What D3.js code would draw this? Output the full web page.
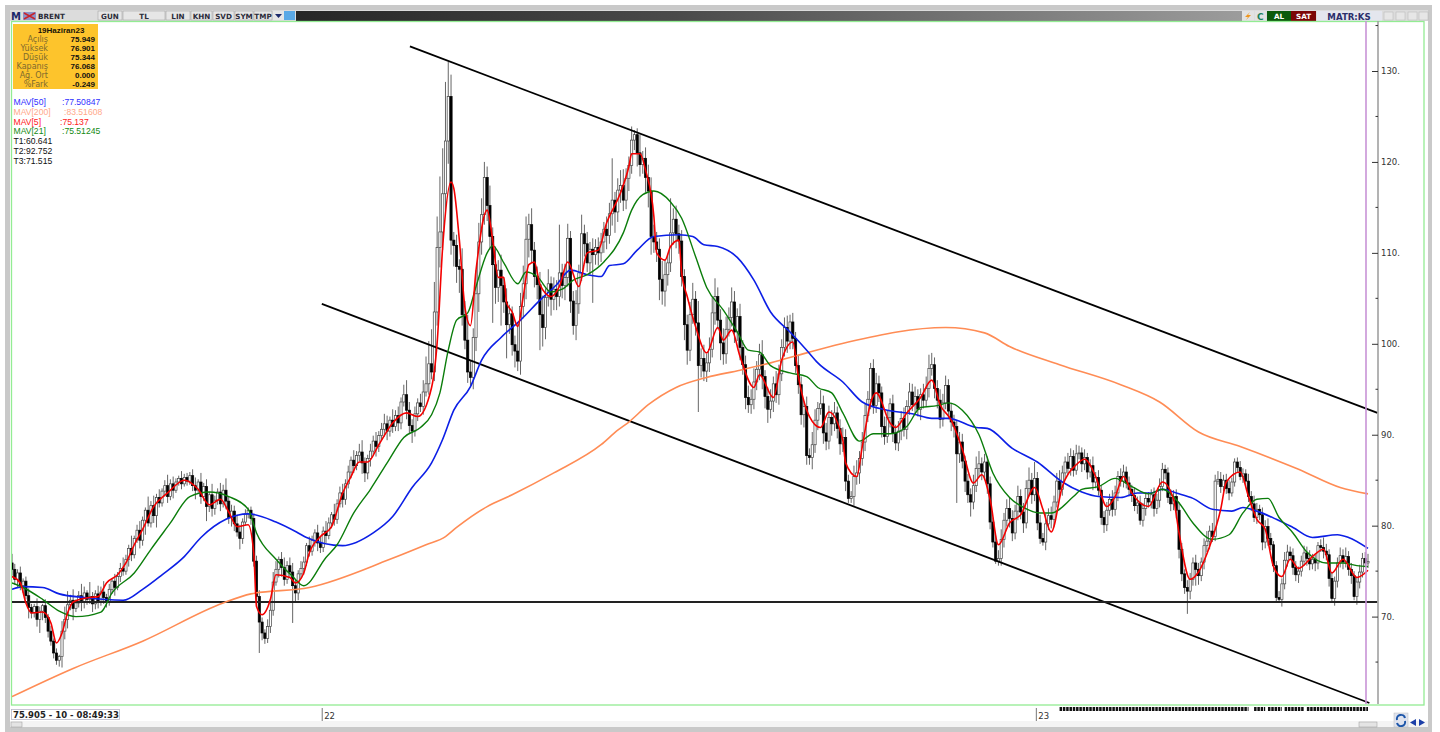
<!DOCTYPE html>
<html>
<head>
<meta charset="utf-8">
<style>
html,body{margin:0;padding:0;background:#fff;overflow:hidden}
text{font-family:"Liberation Sans",Arial,sans-serif}
.tb{font-family:"DejaVu Sans",sans-serif;font-weight:bold;font-size:7.2px;fill:#2c2c3a}
</style>
</head>
<body>
<svg id="chart" width="1440" height="732"></svg>
<script src="https://cdnjs.cloudflare.com/ajax/libs/d3/7.8.5/d3.min.js"></script>
<script>
//Price data, one row = 20 sessions
var firstOpen = 75.9;
var closes = [
75.2,74.1,74.8,73.4,73.9,72.3,71.0,70.4,71.1,69.7,70.6,71.2,69.9,68.4,67.3,66.0,65.2,65.6,68.4,69.7,
71.3,71.8,70.9,71.5,72.3,71.6,72.6,71.9,72.2,71.4,72.5,71.7,72.7,72.1,71.6,73.0,73.9,73.2,74.4,75.3,
75.0,76.3,77.5,76.8,78.6,79.5,78.4,80.6,81.7,80.3,82.2,81.1,83.1,82.5,83.8,84.4,83.2,84.6,83.9,84.8,
85.2,84.6,85.3,84.9,85.5,84.4,83.9,84.8,83.2,84.3,82.1,83.4,81.9,82.8,83.7,82.4,83.9,82.7,80.9,81.6,
80.2,79.3,78.6,80.4,81.3,81.7,80.8,76.1,72.2,69.4,68.2,67.6,68.9,70.7,73.8,75.2,76.3,75.4,74.1,75.6,
74.9,73.4,72.6,74.7,75.3,76.0,77.8,77.2,78.4,79.2,78.1,77.6,79.4,78.9,80.3,81.2,80.7,82.4,83.6,82.9,
84.6,85.9,87.2,86.6,87.7,88.1,86.9,85.8,87.4,88.2,89.3,88.7,89.9,90.6,91.2,90.4,91.6,90.9,92.1,91.3,
93.6,94.4,92.7,91.0,90.4,92.3,93.5,93.1,94.7,95.6,97.8,96.9,103.5,110.6,112.3,116.5,122.3,127.2,111.4,110.8,
108.5,108.2,103.2,100.4,96.9,96.3,100.7,105.5,111.2,114.2,118.3,115.2,111.8,108.7,106.2,108.1,106.4,104.6,102.1,103.3,
99.9,99.2,98.1,104.1,106.6,111.5,113.1,110.3,107.4,106.5,103.2,101.8,105.1,106.6,104.9,106.0,105.2,107.8,106.4,107.3,
111.6,104.7,102.0,104.4,107.8,112.1,111.0,108.9,110.4,109.8,110.6,110.0,111.2,112.6,111.9,114.3,115.8,114.5,116.9,117.4,
115.8,118.2,119.6,122.4,123.0,121.0,119.7,120.4,118.3,116.8,111.8,111.2,110.4,107.1,105.8,107.6,108.9,112.2,113.7,112.1,
111.3,107.4,102.1,99.3,103.2,104.9,102.3,97.6,98.4,97.0,97.9,99.4,103.4,105.2,102.6,100.1,98.9,101.6,102.9,104.6,
101.3,103.0,99.6,97.7,94.1,93.3,93.9,95.8,97.2,98.8,96.4,94.2,92.8,93.7,95.6,94.4,96.7,99.6,101.8,100.3,
102.4,100.6,97.6,95.5,92.2,93.1,87.7,87.5,88.9,91.6,92.9,93.4,90.2,89.3,91.9,91.2,92.4,90.7,89.0,89.7,
84.9,83.0,83.2,85.4,85.8,87.4,89.2,92.1,93.9,97.3,93.2,95.6,94.6,90.9,89.8,91.9,93.4,90.2,89.1,90.4,
91.8,90.6,93.1,94.7,93.3,94.2,92.8,94.4,93.8,95.1,97.3,97.7,95.1,93.8,91.7,93.5,95.4,92.6,91.4,90.9,
87.9,89.2,87.1,84.9,83.4,82.6,84.4,86.3,86.8,85.9,87.0,84.6,80.4,78.2,76.1,76.4,78.5,80.6,81.9,80.8,
79.2,81.6,83.2,81.5,80.3,84.1,85.0,83.4,85.2,80.3,78.6,78.2,80.2,81.1,80.7,82.6,84.9,84.0,85.8,87.0,
86.3,87.6,86.1,87.9,88.0,86.8,87.5,85.9,86.6,84.8,85.3,83.9,80.9,80.1,81.7,82.9,81.8,83.6,85.4,84.9,
85.9,84.7,84.0,83.3,82.2,82.5,80.6,81.9,83.0,82.6,83.4,81.9,82.8,84.3,86.2,85.8,83.1,82.4,83.2,81.7,
77.4,74.7,73.2,72.8,74.1,75.9,75.2,74.5,76.0,77.8,78.3,79.4,78.8,84.9,85.1,84.3,85.0,84.1,83.6,84.8,
87.0,86.4,85.4,85.7,84.9,83.2,82.4,80.9,81.8,81.2,78.2,79.9,78.6,77.9,75.6,72.1,71.9,73.6,76.2,77.1,
76.7,75.4,74.6,75.0,76.1,77.0,76.4,75.8,76.3,75.9,77.8,77.6,77.2,76.8,74.2,72.0,73.9,75.9,76.7,76.0,
76.6,75.2,74.5,72.2,73.8,74.9,76.4,75.9,76.07
];
var upperWick = [
1.0,0.6,0.4,0.7,0.3,0.5,0.8,0.4,0.3,0.9,0.5,0.2,0.7,0.4,0.6,0.3,0.5,0.2,1.1,1.4,
1.5,0.6,1.2,0.4,0.5,1.3,0.7,0.3,1.6,0.5,0.4,0.9,0.6,1.2,0.4,0.6,0.3,0.8,0.5,0.6,
1.2,0.5,0.4,1.4,0.3,0.6,1.0,0.4,0.3,1.5,0.5,1.1,0.4,0.9,0.3,0.6,1.2,0.5,0.8,0.4,
0.3,0.8,0.4,0.5,0.4,0.7,0.9,0.3,1.0,0.4,0.8,0.3,1.2,0.5,0.4,1.0,0.6,1.3,0.5,0.7,
0.6,1.0,0.8,0.4,0.5,0.3,0.4,0.5,0.6,0.7,0.5,0.4,0.8,1.0,1.1,0.9,0.3,0.8,1.1,0.5,
0.9,1.0,0.7,0.4,0.8,0.6,0.3,1.0,0.5,0.4,0.9,0.7,0.5,1.1,0.6,0.3,1.2,0.5,0.7,1.0,
0.5,0.7,0.4,1.1,0.5,0.9,1.3,0.6,0.4,0.8,0.6,1.0,0.5,0.7,1.1,0.9,0.4,1.2,0.6,1.0,
0.5,1.1,1.6,0.9,0.7,0.8,0.5,1.0,1.3,3.0,2.5,3.8,3.3,3.4,6.1,5.0,6.5,3.8,2.4,0.9,
1.2,0.8,2.3,1.5,2.8,1.3,1.0,2.6,2.1,1.8,1.7,1.2,2.2,1.0,2.0,1.1,1.7,0.9,1.5,1.0,
0.8,1.0,3.2,1.5,2.0,2.5,1.2,1.8,0.9,1.1,1.4,2.1,1.0,1.6,0.8,1.3,1.0,5.3,1.0,1.5,
1.6,0.8,1.1,1.5,0.9,2.1,1.0,1.3,0.8,1.2,0.9,1.1,1.0,0.8,1.4,1.2,4.6,0.9,1.3,1.7,
1.8,1.1,1.0,1.5,0.5,0.7,2.0,0.8,1.2,1.4,1.5,1.3,1.1,1.2,2.0,1.6,1.0,3.8,1.2,1.5,
1.0,1.2,0.8,1.1,1.4,1.8,0.9,2.4,1.1,1.5,1.0,1.3,1.7,2.0,1.0,1.2,1.6,1.4,1.1,1.6,
1.2,0.9,1.4,0.8,1.0,1.3,1.1,1.5,0.9,1.2,1.6,0.7,1.0,1.3,0.8,1.4,1.0,0.9,1.1,1.3,
0.8,1.0,0.7,1.2,0.9,0.6,1.1,0.8,1.4,1.2,0.7,1.5,0.9,1.1,1.3,0.8,1.2,0.7,1.0,1.1,
0.9,0.7,0.6,1.2,1.4,0.8,1.1,1.3,0.9,0.6,1.0,1.2,0.9,0.7,1.1,0.8,0.6,1.0,0.9,1.1,
0.8,1.2,0.7,1.0,0.9,1.1,0.8,0.7,1.2,1.3,1.5,1.3,0.8,0.9,1.2,1.0,1.1,0.7,0.9,0.8,
0.7,1.1,0.9,0.6,0.8,0.7,1.2,1.3,1.4,0.7,0.9,0.6,0.8,0.5,0.7,0.9,1.1,0.8,1.0,1.2,
0.9,0.7,1.2,0.8,1.0,0.9,1.4,0.8,1.8,0.7,0.9,0.6,1.1,0.8,1.0,0.7,0.9,1.2,0.8,0.6,
1.0,0.9,0.7,1.0,0.8,0.6,0.9,0.5,0.7,1.0,0.6,0.8,0.5,0.7,0.9,0.6,1.0,0.8,0.6,0.9,
0.8,0.6,0.7,0.5,0.9,0.7,0.8,0.6,0.5,0.7,0.6,0.8,0.7,0.9,0.7,0.5,0.6,0.9,0.7,0.8,
0.9,0.7,0.5,0.8,0.7,0.6,0.9,0.7,0.5,0.8,1.1,0.6,0.9,0.7,0.9,0.8,0.6,0.7,0.9,0.5,
0.4,0.5,0.7,0.6,0.5,0.8,0.6,0.9,0.7,0.5,0.8,0.7,0.9,0.6,0.4,0.5,0.7,0.6,0.9,0.8,
0.6,0.8,0.7,0.5,0.6,0.8,0.7,0.9,0.6,0.5,0.4,0.7,1.1,0.8,0.6,0.7,0.5,0.6,0.9,0.7,
1.0,0.6,0.7,0.5,0.6,0.8,0.6,0.7,0.83
];
var lowerWick = [
0.7,0.6,0.9,0.5,0.8,0.4,1.2,0.6,0.5,0.8,1.5,1.0,0.6,0.7,0.5,0.6,0.5,0.7,1.2,0.9,
1.0,0.6,1.3,0.4,0.5,1.0,0.7,0.6,0.5,0.9,0.6,0.8,0.5,0.7,0.6,0.4,0.5,0.9,0.3,0.6,
0.5,0.4,0.8,0.7,0.4,0.5,0.9,0.6,1.6,0.4,0.5,0.8,1.3,0.5,0.4,0.6,0.7,0.4,0.9,0.3,
0.4,0.6,0.3,0.5,0.4,0.6,1.0,0.4,0.8,0.5,1.6,0.6,0.9,0.7,0.5,0.8,0.4,0.9,0.7,1.0,
0.8,0.5,1.2,0.6,0.4,0.5,0.7,0.6,0.9,3.4,0.8,0.6,0.5,0.7,0.6,0.4,0.9,1.0,0.7,0.5,
0.6,4.1,0.9,0.8,0.5,0.7,0.4,0.6,0.5,0.7,0.9,0.6,0.5,0.8,0.4,0.6,0.7,0.5,0.4,0.9,
0.6,0.5,0.7,0.8,0.5,0.6,1.2,1.0,0.7,0.9,0.5,1.1,0.6,0.5,0.8,1.0,0.6,0.7,0.5,0.9,
0.7,0.5,1.0,0.9,1.3,0.6,0.8,0.6,0.9,0.5,1.2,0.8,1.0,1.5,2.2,2.0,1.8,2.5,1.6,2.3,
1.8,2.6,1.2,1.0,1.2,0.9,1.3,1.5,2.0,1.4,1.1,1.7,1.5,6.4,1.8,1.6,4.4,1.2,3.7,1.0,
1.2,1.8,1.1,1.5,1.3,1.7,2.0,1.4,1.2,1.6,3.9,2.1,1.3,1.0,1.8,1.2,1.5,1.1,1.4,1.6,
1.0,1.3,1.0,1.6,1.1,0.9,1.4,1.0,1.3,5.3,1.1,1.4,1.0,1.2,1.5,0.9,1.3,2.3,1.1,1.4,
1.2,1.0,1.4,0.9,1.1,1.5,1.3,1.0,1.6,1.8,2.0,1.2,1.4,2.3,1.5,1.7,1.2,1.0,1.3,1.6,
1.4,1.1,1.7,1.6,1.2,1.0,1.4,5.1,1.3,1.1,1.2,1.0,0.9,1.3,1.0,1.9,1.2,1.1,0.8,1.0,
1.2,1.0,1.4,1.1,1.3,0.9,1.0,1.1,0.9,1.2,1.4,1.3,1.5,1.0,1.2,0.9,1.1,0.8,1.0,1.3,
0.9,1.2,0.8,1.0,1.1,1.4,1.0,0.8,1.3,0.9,1.1,0.7,1.2,1.0,0.9,1.3,0.8,1.1,1.2,0.9,
1.1,0.5,0.5,1.0,0.9,1.2,0.8,1.0,0.7,1.1,0.9,0.8,1.0,1.2,0.9,0.7,1.1,1.0,0.8,0.9,
1.0,0.8,1.1,0.9,0.7,1.0,0.8,1.2,0.9,0.7,1.0,0.8,1.1,0.9,1.0,0.8,0.7,0.9,1.0,1.2,
5.4,1.0,0.8,1.2,0.9,1.6,0.8,0.7,1.0,0.9,0.7,1.1,0.8,0.6,0.3,0.5,0.8,0.9,0.7,1.0,
0.9,0.7,1.0,0.8,1.1,0.6,0.9,1.0,0.7,0.8,0.6,0.4,0.9,0.7,1.0,0.8,0.6,0.9,0.7,0.8,
0.6,0.8,0.7,0.5,0.6,0.9,0.7,0.8,0.6,0.9,0.7,0.6,0.8,0.9,0.7,0.6,0.8,0.7,0.9,0.6,
0.7,0.6,0.8,0.7,0.6,0.9,0.5,0.7,0.8,0.6,0.7,0.9,0.6,0.8,0.5,0.7,0.6,0.8,0.7,0.9,
1.0,0.8,0.7,2.5,0.9,0.7,1.8,1.0,0.6,0.8,0.7,0.9,0.6,0.5,0.4,0.7,0.5,0.6,0.8,0.4,
0.5,0.6,0.4,0.7,0.5,0.6,0.8,0.5,0.7,0.6,0.9,0.7,0.8,0.6,0.7,0.4,0.3,0.8,0.6,0.7,
0.5,0.8,0.7,0.9,0.6,0.5,0.8,0.7,0.6,0.9,0.7,0.5,0.8,0.6,0.9,0.3,0.8,0.7,0.5,0.8,
0.6,0.7,0.9,0.4,0.9,0.7,0.6,0.5,0.55
];

//Moving averages, [session, value]
var mav50 = [[0,73],[4,73.3],[11,73.2],[17,72.5],[26,72.1],[40,71.8],[47,73],[54,74.6],[62,76.6],[68,78.7],[77,80.7],[85,81.3],[95,80.4],[103,79.2],[106,78.7],[119,77.8],[130,79.2],[137,81],[144,84.2],[151,86.9],[155,89.5],[159,92.7],[165,95.3],[169,98.2],[176,100.7],[183,102.6],[190,104.8],[196,106.5],[201,108.1],[207,107.6],[212,107.4],[215,108.6],[220,108.8],[225,110.3],[231,111.8],[240,112],[245,111.8],[249,110.9],[254,110.7],[261,109.5],[267,107],[273,103.5],[280,101.3],[286,99.3],[290,97.9],[299,95.8],[306,93.6],[315,92.7],[324,92.3],[331,91.8],[337,91.8],[347,90.8],[351,90.7],[360,88.5],[369,87],[378,84.8],[385,83.7],[391,83.2],[399,83.1],[405,83.6],[410,83.6],[414,84],[420,83.5],[425,83],[432,81.8],[439,81.6],[443,82],[448,81.6],[455,80.7],[461,79.8],[468,78.7],[477,79],[481,78.7],[488,77.5]];
var mav200 = [[0,61.2],[22,64.3],[47,67.3],[76,71.5],[86,72.5],[107,73.2],[136,76.3],[149,77.9],[156,78.8],[160,79.8],[171,82.1],[180,83.4],[195,85.8],[212,88.9],[218,90.5],[222,91.4],[229,93.3],[239,95.2],[250,96.3],[262,97.1],[273,97.9],[286,99],[301,100.2],[336,101.8],[350,101.2],[359,99.7],[377,97.7],[399,95.5],[413,93.6],[427,90.3],[442,88.7],[463,86.2],[478,84.2],[488,83.5]];
var mav5 = [[0,74.4],[3,73.7],[5,71.5],[7,70.4],[11,70.5],[14,69.3],[16,67.1],[18,68.2],[20,70.4],[22,71.6],[28,72.1],[31,72.2],[34,73.7],[38,74.6],[41,75.9],[44,77.9],[47,79.6],[51,82.1],[56,83.6],[62,85],[67,84],[71,82.3],[75,82.9],[78,81.5],[81,79.9],[85,80.1],[87,77],[88,71.1],[90,70.2],[93,71.9],[95,74.6],[100,74.3],[102,73.7],[105,74.8],[107,77],[111,78.8],[115,79.9],[119,83.6],[122,85.4],[125,87],[128,87],[132,88.9],[137,91.3],[142,92.4],[146,92],[151,95.2],[153,100.1],[155,110.7],[158,117.8],[159,117.1],[161,111.4],[163,104],[165,102],[167,108.1],[171,114.7],[173,111.4],[175,107.3],[177,107.3],[178,104.5],[180,103.5],[182,101.9],[184,105.2],[186,108.7],[188,109],[190,106.5],[194,105.2],[197,106.3],[200,109],[204,106.3],[207,110],[211,110.3],[214,113.3],[219,116.6],[222,119.5],[223,120.9],[226,120.9],[228,119.1],[231,114],[232,110],[235,109.2],[237,110.7],[240,111.4],[241,107.8],[243,105.2],[246,101.9],[250,99],[254,101.8],[256,100.4],[259,101.5],[262,98.6],[267,95.2],[269,96.6],[274,94.1],[277,98.2],[281,100.2],[283,96.4],[287,92],[291,90.8],[294,92.5],[299,89.4],[300,86.9],[304,85.4],[306,88.7],[309,93.5],[311,94.6],[316,91.3],[318,90.8],[322,92.4],[327,94.1],[331,96],[334,93.3],[338,91.6],[342,88.4],[346,84.7],[349,85.6],[352,82.9],[355,77.9],[359,80.3],[363,81.2],[368,84.2],[371,81.8],[374,79.3],[378,84.3],[383,86.7],[386,87.3],[390,85.4],[394,82.1],[397,83.2],[400,85.4],[403,83.6],[409,82.1],[414,84.8],[418,82.9],[420,79.2],[424,74.1],[427,74.9],[431,77.7],[435,81.8],[437,84.8],[442,85.9],[445,83.2],[448,80.7],[451,79.6],[454,75.5],[457,74.4],[460,76.3],[463,75.3],[468,76.6],[472,77.4],[475,74.8],[479,76.3],[484,74.3],[488,75.1]];
var mav21 = [[0,73.7],[4,73.2],[11,71.9],[17,70.6],[23,70],[32,70.5],[36,72.6],[44,74.8],[50,77.4],[57,80.3],[64,83.2],[71,83.7],[78,83.2],[85,81.8],[88,79.2],[95,76.3],[101,74.4],[105,73.4],[113,76.5],[117,77.9],[123,81.4],[129,84],[135,86.9],[141,89.7],[147,90.8],[151,92.2],[154,94.6],[157,99.3],[160,102.6],[164,103.4],[167,106.3],[171,110],[173,110.8],[177,108.9],[182,106.6],[185,107.9],[189,107.4],[194,105.7],[198,106],[202,107],[207,107.6],[213,109],[220,112.2],[223,114.7],[227,116.4],[231,116.8],[237,115.6],[241,113.8],[246,109.6],[250,106.2],[256,103.7],[261,101.3],[265,99.3],[269,99.1],[273,97.6],[280,96.8],[286,96.4],[290,95.2],[295,94.6],[299,92.4],[305,89.3],[310,90.1],[316,90.1],[322,90.9],[327,93],[333,93.2],[337,93.5],[342,92.7],[348,90],[353,85.8],[359,83.1],[364,82],[370,81.4],[374,81.4],[382,83.2],[385,84],[391,84.3],[397,85.2],[403,84.3],[409,83.5],[414,84],[420,82.5],[425,80.3],[432,78.5],[438,79],[443,81.4],[448,82.9],[452,83],[456,80.9],[461,79.2],[466,77.1],[473,75.9],[479,75.9],[484,75.6],[488,75.5]];

//Drawn trend lines, [session, price]
var channelTop = [[143.2,132.7],[491.4,92.4]];
var channelBottom = [[111.5,104.4],[488.5,60.5]];
var support = [[0,71.6],[491.4,71.6]];

var priceTicks = [130,120,110,100,90,80,70];
var minorTicks = [135,125,115,105,95,85,75,65];
var yearTicks = [{day:112,label:"22"},{day:369,label:"23"}];
var volumeRuns = [[377,445],[447,451],[452,457],[458,465],[466,488]];

var infoRows = [["Açılış","75.949"],["Yüksek","76.901"],["Düşük","75.344"],["Kapanış","76.068"],["Ağ. Ort","0.000"],["%Fark","-0.249"]];
var legendRows = [
  {name:"MAV[50]",value:":77.50847",color:"#3030ff",x:62},
  {name:"MAV[200]",value:":83.51608",color:"#ffa98a",x:64},
  {name:"MAV[5]",value:":75.137",color:"#ff2020",x:60},
  {name:"MAV[21]",value:":75.51245",color:"#138a13",x:62},
  {name:"T1:60.641",value:"",color:"#111",x:0},
  {name:"T2:92.752",value:"",color:"#111",x:0},
  {name:"T3:71.515",value:"",color:"#111",x:0}
];
var toolButtons = [["GUN",98,122],["TL",123,165],["LIN",166,190],["KHN",191,212],["SVD",213,234],["SYM",235,253],["TMP",254,272]];

var svg = d3.select("#chart");

var x = d3.scaleLinear().domain([0,488]).range([12,1368]);
var y = d3.scaleLinear().domain([130,70]).range([71,616.6]);

////////// window frame //////////
svg.append("rect").attr("x",5).attr("y",5).attr("width",1427).attr("height",727).attr("fill","#c9c9c9");
svg.append("rect").attr("x",10).attr("y",10).attr("width",1418).attr("height",717).attr("fill","#fff");
svg.append("rect").attr("x",10).attr("y",721).attr("width",1418).attr("height",6).attr("fill","#f4f4f4");

var defs = svg.append("defs");
var grad = defs.append("linearGradient").attr("id","bar");
grad.append("stop").attr("offset","0").attr("stop-color","#262626");
grad.append("stop").attr("offset","0.4").attr("stop-color","#4a4a4a");
grad.append("stop").attr("offset","1").attr("stop-color","#9c9c9c");
var clip = defs.append("clipPath").attr("id","plot");
clip.append("rect").attr("x",12).attr("y",22).attr("width",1366).attr("height",682);

//toolbar
svg.append("rect").attr("x",10).attr("y",10).attr("width",1418).attr("height",11).attr("fill","#dcdcdc");
svg.append("rect").attr("x",296).attr("y",11).attr("width",946).attr("height",10).attr("fill","url(#bar)");
svg.append("text").attr("class","tb").attr("x",11).attr("y",20).style("font-size","10px").style("fill","#1c2a6b").text("M");
svg.append("rect").attr("x",23).attr("y",12).attr("width",13).attr("height",8).attr("fill","#8d93c8");
svg.append("path").attr("d","M24 13L35 19M24 19L35 13").attr("stroke","#c8242c").attr("stroke-width",1.5);
svg.append("text").attr("class","tb").attr("x",38).attr("y",18.5).text("BRENT");
svg.append("g").selectAll("rect").data(toolButtons).enter().append("rect")
  .attr("x",function(d){return d[1];}).attr("y",11).attr("width",function(d){return d[2]-d[1];}).attr("height",9)
  .attr("fill","#e6e6e6").attr("stroke","#9a9a9a").attr("stroke-width",0.5);
svg.append("g").selectAll("text").data(toolButtons).enter().append("text")
  .attr("class","tb").attr("text-anchor","middle").attr("y",18.5)
  .attr("x",function(d){return (d[1]+d[2])/2;}).text(function(d){return d[0];});
svg.append("rect").attr("x",273).attr("y",11).attr("width",11).attr("height",9).attr("fill","#e6e6e6");
svg.append("path").attr("d","M275 14L282 14L278.5 18Z").attr("fill","#1c2a6b");
svg.append("rect").attr("x",284).attr("y",11).attr("width",11).attr("height",9).attr("fill","#5aa9e6");

//right side of toolbar
svg.append("rect").attr("x",1242).attr("y",11).attr("width",12).attr("height",10).attr("fill","#e2e2e2");
svg.append("path").attr("d","M1250 12L1245 17L1248 17L1246 20L1251 15L1248 15Z").attr("fill","#f0961e");
svg.append("rect").attr("x",1255).attr("y",11).attr("width",11).attr("height",10).attr("fill","#e2e2e2");
svg.append("text").attr("class","tb").attr("x",1257).attr("y",19.5).style("fill","#1a7f5a").style("font-size","9px").text("C");
svg.append("rect").attr("x",1267).attr("y",11).attr("width",24).attr("height",10).attr("fill","#0b5a0b");
svg.append("text").attr("class","tb").attr("x",1279).attr("y",19).attr("text-anchor","middle").style("fill","#fff").text("AL");
svg.append("rect").attr("x",1291).attr("y",11).attr("width",25).attr("height",10).attr("fill","#7c0606");
svg.append("text").attr("class","tb").attr("x",1303.5).attr("y",19).attr("text-anchor","middle").style("fill","#fff").text("SAT");
svg.append("rect").attr("x",1317).attr("y",11).attr("width",65).attr("height",10).attr("fill","#e4e6ee");
svg.append("text").attr("class","tb").attr("x",1349).attr("y",19.5).attr("text-anchor","middle").style("fill","#2c2f6b").style("font-size","8.6px").text("MATR:KS");
[1384,1396,1408,1419].forEach(function(bx){
  svg.append("rect").attr("x",bx).attr("y",12).attr("width",9).attr("height",8).attr("fill","#e6e6e6").attr("stroke","#b5b5b5").attr("stroke-width",0.5);
});

//plot frame
svg.append("rect").attr("x",11.5).attr("y",21.5).attr("width",1412.5).attr("height",683.5)
  .attr("fill","#fff").attr("stroke","#93ec93").attr("stroke-width",1.3);

////////// chart //////////
var plot = svg.append("g").attr("clip-path","url(#plot)");

var line = d3.line()
  .x(function(d){return x(d[0]);})
  .y(function(d){return y(d[1]);});
var maLine = d3.line()
  .x(function(d){return x(d[0]);})
  .y(function(d){return y(d[1]);})
  .curve(d3.curveMonotoneX);

var candles = closes.map(function(c,i){
  var o = i == 0 ? firstOpen : closes[i-1];
  return {i:i,open:o,close:c,high:Math.max(o,c)+(upperWick[i]||0),low:Math.min(o,c)-(lowerWick[i]||0)};
});

plot.append("g").selectAll("line").data(candles).enter().append("line")
  .attr("x1",function(d){return x(d.i);}).attr("x2",function(d){return x(d.i);})
  .attr("y1",function(d){return y(d.high);}).attr("y2",function(d){return y(d.low);})
  .attr("stroke","#555").attr("stroke-width",0.9);

plot.append("g").selectAll("rect").data(candles).enter().append("rect")
  .attr("x",function(d){return x(d.i)-1.1;})
  .attr("width",2.2)
  .attr("y",function(d){return y(Math.max(d.open,d.close));})
  .attr("height",function(d){return Math.max(0.6,Math.abs(y(d.open)-y(d.close)));})
  .attr("fill",function(d){return d.close >= d.open ? "#fff" : "#000";})
  .attr("stroke",function(d){return d.close >= d.open ? "#444" : "#000";})
  .attr("stroke-width",0.7);

//trend lines
plot.append("path").attr("d",line(channelTop)).attr("fill","none").attr("stroke","#000").attr("stroke-width",1.8);
plot.append("path").attr("d",line(channelBottom)).attr("fill","none").attr("stroke","#000").attr("stroke-width",1.8);
plot.append("path").attr("d",line(support)).attr("fill","none").attr("stroke","#222").attr("stroke-width",2);

//moving averages
plot.append("path").attr("d",maLine(mav200)).attr("fill","none").attr("stroke","#ff8c55").attr("stroke-width",1.6);
plot.append("path").attr("d",maLine(mav50)).attr("fill","none").attr("stroke","#0c1fe6").attr("stroke-width",1.6);
plot.append("path").attr("d",maLine(mav21)).attr("fill","none").attr("stroke","#0b7d0b").attr("stroke-width",1.4);
plot.append("path").attr("d",maLine(mav5)).attr("fill","none").attr("stroke","#f40000").attr("stroke-width",1.6);

//current bar marker + price axis
svg.append("line").attr("x1",1366).attr("x2",1366).attr("y1",21).attr("y2",704).attr("stroke","#c893d6").attr("stroke-width",1.6);
svg.append("line").attr("x1",1378).attr("x2",1378).attr("y1",21).attr("y2",704).attr("stroke","#a0a0a0").attr("stroke-width",1.6);

var yAxis = d3.axisRight(y).tickValues(priceTicks).tickSize(-6).tickPadding(3)
  .tickFormat(function(d){return d + ".";});
var gy = svg.append("g").attr("transform","translate(1378,0)").call(yAxis);
gy.select(".domain").remove();
gy.selectAll("line").attr("stroke","#333");
gy.selectAll("text").attr("fill","#333").style("font-size","8.5px").style("font-family","'DejaVu Sans',sans-serif");
svg.append("g").selectAll("line").data(minorTicks.filter(function(d){return y(d) > 22 && y(d) < 704;})).enter().append("line")
  .attr("x1",1375.5).attr("x2",1378).attr("y1",function(d){return y(d);}).attr("y2",function(d){return y(d);})
  .attr("stroke","#333");

////////// info box //////////
svg.append("rect").attr("x",13).attr("y",24).attr("width",85).attr("height",65).attr("fill","#fdc42c");
svg.append("text").attr("x",61).attr("y",32.5).attr("text-anchor","middle")
  .style("font-size","8px").style("font-weight","bold").attr("fill","#1a1408").text("19Haziran23");
var rows = svg.append("g").selectAll("g").data(infoRows).enter().append("g")
  .attr("transform",function(d,i){return "translate(0,"+(41.5+i*9)+")";});
rows.append("text").attr("x",48).attr("text-anchor","end").attr("fill","#7d6a2e").style("font-size","8px").style("font-family","'DejaVu Sans',sans-serif").text(function(d){return d[0];});
rows.append("text").attr("x",95).attr("text-anchor","end").attr("fill","#111").style("font-size","8px").style("font-weight","bold").text(function(d){return d[1];});

////////// legend //////////
var leg = svg.append("g").selectAll("g").data(legendRows).enter().append("g")
  .attr("transform",function(d,i){return "translate(0,"+(105+i*9.75)+")";});
leg.append("text").attr("x",13.5).attr("fill",function(d){return d.color;}).style("font-size","8.6px").text(function(d){return d.name;});
leg.append("text").attr("x",function(d){return d.x;}).attr("fill",function(d){return d.color;}).style("font-size","8.6px").text(function(d){return d.value;});

////////// bottom strip //////////
svg.append("rect").attr("x",11.5).attr("y",709.5).attr("width",108).attr("height",10).attr("fill","#fff").attr("stroke","#b8b8c8").attr("stroke-width",0.8);
svg.append("text").attr("x",13).attr("y",718).attr("fill","#222").style("font-size","8.5px").style("font-weight","bold").style("font-family","'DejaVu Sans',sans-serif").text("75.905 - 10 - 08:49:33");

var gx = svg.append("g").selectAll("g").data(yearTicks).enter().append("g");
gx.append("line").attr("x1",function(d){return x(d.day)-1;}).attr("x2",function(d){return x(d.day)-1;}).attr("y1",708).attr("y2",721).attr("stroke","#777").attr("stroke-width",1);
gx.append("text").attr("x",function(d){return x(d.day)+1;}).attr("y",719).attr("fill","#333").style("font-size","8.5px").style("font-family","'DejaVu Sans',sans-serif").text(function(d){return d.label;});

svg.append("g").selectAll("line").data(volumeRuns).enter().append("line")
  .attr("x1",function(d){return x(d[0]);}).attr("x2",function(d){return x(d[1]);}).attr("y1",709).attr("y2",709)
  .attr("stroke","#111").attr("stroke-width",4).attr("stroke-dasharray","2.5,0.8");

//scroll bits and nav buttons
svg.append("rect").attr("x",11).attr("y",722).attr("width",11).attr("height",5).attr("fill","#e4e4e4").attr("stroke","#999").attr("stroke-width",0.5);
svg.append("rect").attr("x",1359).attr("y",722).attr("width",18).attr("height",5).attr("fill","#e4e4e4").attr("stroke","#999").attr("stroke-width",0.5);
svg.append("rect").attr("x",1394).attr("y",713).attr("width",14).attr("height",14).attr("fill","#dfe3ee").attr("stroke","#bbb").attr("stroke-width",0.5);
svg.append("path").attr("d","M1397 720A4 4 0 0 1 1405 718M1405 721A4 4 0 0 1 1397 723").attr("fill","none").attr("stroke","#1c55a8").attr("stroke-width",2);
svg.append("path").attr("d","M1416 719L1416 726L1410 722.5Z").attr("fill","#1c3fa8");
svg.append("path").attr("d","M1419 719L1419 726L1425 722.5Z").attr("fill","#1c3fa8");
</script>
</body>
</html>
